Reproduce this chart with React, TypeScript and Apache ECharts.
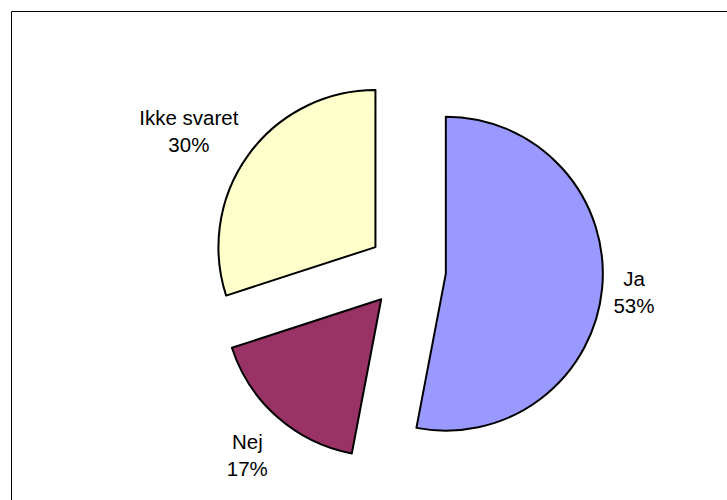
import React, { useEffect, useRef } from "react";
import * as echarts from "echarts";

const categories = ["Ja", "Nej", "Ikke svaret"];
const shares = [53, 17, 30];
const sliceColors = ["#9999FF", "#993366", "#FFFFCC"];
// how far each label sits beyond the rim, plus a small nudge
const labelReach = [32, 47, 65];
const labelNudgeX = [0, 1, -7];
const labelNudgeY = [1, 3, 14];

export default function App() {
  const ref = useRef<HTMLDivElement>(null);

  useEffect(() => {
    if (!ref.current) return;
    const chart = echarts.init(ref.current, undefined, { renderer: "svg" });

    const data = categories.map((name, i) => ({
      name,
      value: shares[i],
      selected: true,
      itemStyle: { color: sliceColors[i] },
      labelLine: { show: false, length: labelReach[i], length2: 0 },
    }));

    chart.setOption({
      animation: false,
      backgroundColor: "#ffffff",
      graphic: [
        {
          type: "rect",
          shape: { x: 11.5, y: 11.5, width: 800, height: 600 },
          style: { fill: "none", stroke: "#000000", lineWidth: 1 },
          silent: true,
        },
      ],
      series: [
        {
          type: "pie",
          center: [407, 270],
          radius: 157,
          startAngle: 90,
          clockwise: true,
          selectedMode: "multiple",
          selectedOffset: 39,
          avoidLabelOverlap: false,
          percentPrecision: 0,
          itemStyle: { borderColor: "#000000", borderWidth: 2 },
          select: { itemStyle: { borderColor: "#000000", borderWidth: 2 } },
          emphasis: { disabled: true },
          label: {
            show: true,
            position: "outside",
            alignTo: "none",
            distanceToLabelLine: 0,
            formatter: "{b}\n{d}%",
            fontFamily: "'Liberation Sans', Arial, sans-serif",
            fontSize: 20.5,
            lineHeight: 27,
            color: "#000000",
          },
          labelLayout: (p: { dataIndex: number }) => ({
            align: "center",
            dx: labelNudgeX[p.dataIndex],
            dy: labelNudgeY[p.dataIndex],
          }),
          data,
        },
      ],
    });

    return () => chart.dispose();
  }, []);

  return (
    <div
      ref={ref}
      style={{ position: "absolute", left: 0, top: 0, width: 727, height: 500 }}
    />
  );
}
